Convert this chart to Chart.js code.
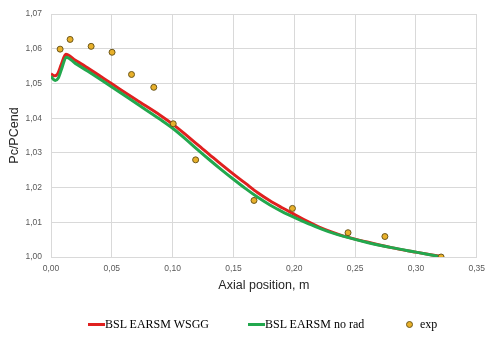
<!DOCTYPE html>
<html>
<head>
<meta charset="utf-8">
<script src="https://cdn.jsdelivr.net/npm/chart.js@4"></script>
<style>
  body { margin: 0; background: #fff; }
  #wrap { position: relative; width: 492px; height: 338px; }
  .leg { position: absolute; top: 317px; font: 12px "Liberation Serif", "Times New Roman", serif; color: #000; white-space: nowrap; }
  .leg span.line { display: inline-block; width: 17px; height: 3px; vertical-align: middle; position: relative; top: -1px; }
  .leg span.dot { display: inline-block; width: 5px; height: 5px; border-radius: 50%; background: #e8b02a; border: 1px solid #6b561a; vertical-align: middle; margin-right: 7px; position: relative; top: -1px; }
</style>
</head>
<body>
<div id="wrap">
  <canvas id="chart" width="492" height="338"></canvas>
  <div class="leg" style="left:88px"><span class="line" style="background:#e0201f"></span>BSL EARSM WSGG</div>
  <div class="leg" style="left:248px"><span class="line" style="background:#22a84e"></span>BSL EARSM no rad</div>
  <div class="leg" style="left:406px"><span class="dot"></span>exp</div>
</div>
<script>
  const seriesNames = ['BSL EARSM WSGG', 'BSL EARSM no rad', 'exp'];

  // red curve
  const wsggX = [0, 0.003, 0.0055, 0.0085, 0.0122, 0.02, 0.03, 0.05, 0.07, 0.09, 0.10, 0.11, 0.12, 0.13, 0.14, 0.15, 0.16, 0.17, 0.18, 0.19, 0.20, 0.21, 0.22, 0.23, 0.24, 0.26, 0.28, 0.30, 0.32];
  const wsggY = [1.0528, 1.0522, 1.0528, 1.0555, 1.0584, 1.0567, 1.0545, 1.0499, 1.0453, 1.0408, 1.0383, 1.0355, 1.0325, 1.0296, 1.0267, 1.0239, 1.0212, 1.0185, 1.0162, 1.0142, 1.0123, 1.0104, 1.0087, 1.0073, 1.0061, 1.0043, 1.0027, 1.0014, 1.0002];

  // green curve
  const noradX = [0, 0.002, 0.0035, 0.006, 0.009, 0.0125, 0.02, 0.03, 0.05, 0.07, 0.09, 0.10, 0.11, 0.12, 0.13, 0.14, 0.15, 0.16, 0.17, 0.18, 0.19, 0.20, 0.21, 0.22, 0.23, 0.24, 0.26, 0.28, 0.30, 0.32];
  const noradY = [1.0521, 1.0512, 1.0509, 1.0516, 1.0545, 1.0576, 1.0558, 1.0536, 1.0490, 1.0443, 1.0396, 1.0371, 1.0342, 1.0311, 1.0281, 1.0252, 1.0224, 1.0197, 1.0172, 1.0150, 1.0131, 1.0114, 1.0098, 1.0084, 1.0071, 1.0060, 1.0042, 1.0027, 1.0014, 1.0001];

  const expX = [0.0075, 0.0157, 0.033, 0.0502, 0.0662, 0.0845, 0.1005, 0.1189, 0.1669, 0.1985, 0.2442, 0.2745, 0.3207];
  const expY = [1.0599, 1.0627, 1.0607, 1.0590, 1.0526, 1.0489, 1.0384, 1.0280, 1.0163, 1.0140, 1.0070, 1.0059, 1.0000];

  const xTickLabels = ['0,00', '0,05', '0,10', '0,15', '0,20', '0,25', '0,30', '0,35'];
  const yTickLabels = ['1,00', '1,01', '1,02', '1,03', '1,04', '1,05', '1,06', '1,07'];

  const toPoints = (xs, ys) => xs.map((x, i) => ({ x: x, y: ys[i] }));

  const ctx = document.getElementById('chart').getContext('2d');
  const chart = new Chart(ctx, {
    type: 'line',
    data: {
      datasets: [{
        label: seriesNames[2],
        type: 'scatter',
        data: toPoints(expX, expY),
        backgroundColor: '#e8b02a',
        borderColor: '#6b561a',
        borderWidth: 1,
        pointRadius: 3,
        order: 0
      }, {
        label: seriesNames[1],
        data: toPoints(noradX, noradY),
        borderColor: '#22a84e',
        borderWidth: 3,
        pointRadius: 0,
        cubicInterpolationMode: 'monotone',
        order: 1
      }, {
        label: seriesNames[0],
        data: toPoints(wsggX, wsggY),
        borderColor: '#e0201f',
        borderWidth: 3,
        pointRadius: 0,
        cubicInterpolationMode: 'monotone',
        order: 2
      }]
    },
    options: {
      responsive: false,
      animation: false,
      layout: { padding: { left: 0, top: 10, right: 9, bottom: 45 } },
      plugins: {
        legend: { display: false },
        tooltip: { enabled: false }
      },
      scales: {
        x: {
          type: 'linear',
          min: 0,
          max: 0.35,
          afterFit: (scale) => { scale.height = 36; },
          afterBuildTicks: (scale) => { scale.ticks = xTickLabels.map((t, i) => ({ value: i * 0.05 })); },
          ticks: {
            padding: 7,
            color: '#595959',
            font: { family: 'Liberation Sans', size: 8.5 },
            maxRotation: 0,
            callback: (v, i) => xTickLabels[i]
          },
          grid: { color: '#d9d9d9', drawTicks: false },
          border: { color: '#d9d9d9' },
          title: {
            display: true,
            text: 'Axial position, m',
            color: '#262626',
            font: { family: 'Liberation Sans', size: 12.5 },
            padding: 0
          }
        },
        y: {
          min: 1.0,
          max: 1.07,
          afterFit: (scale) => { scale.width = 51; },
          afterBuildTicks: (scale) => { scale.ticks = yTickLabels.map((t, i) => ({ value: 1 + i * 0.01 })); },
          ticks: {
            padding: 9,
            color: '#595959',
            font: { family: 'Liberation Sans', size: 8.5 },
            callback: (v, i) => yTickLabels[i]
          },
          grid: { color: '#d9d9d9', drawTicks: false },
          border: { color: '#d9d9d9' },
          title: {
            display: true,
            text: 'Pc/PCend',
            color: '#262626',
            font: { family: 'Liberation Sans', size: 12.5 },
            padding: { top: 7, bottom: 0 }
          }
        }
      }
    }
  });
</script>
</body>
</html>
